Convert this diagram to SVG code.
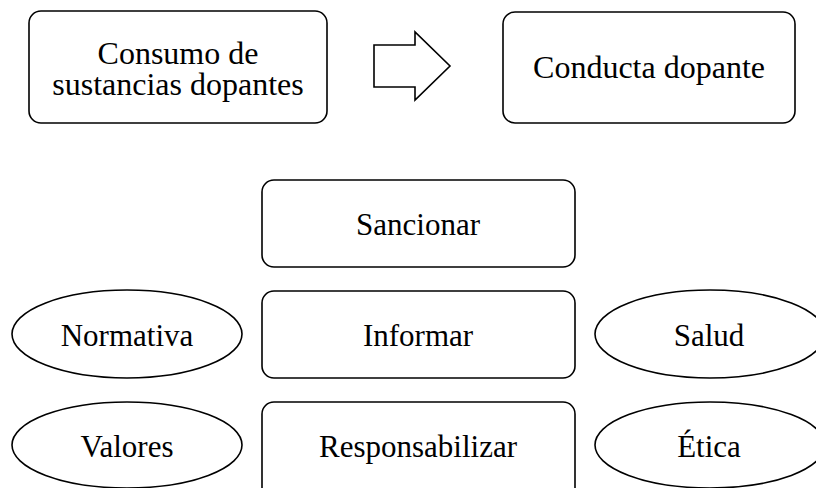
<svg xmlns="http://www.w3.org/2000/svg" width="816" height="488" viewBox="0 0 816 488">
<style>
.box{fill:#fff;stroke:#000;stroke-width:1.6}
.t{font-family:"Liberation Serif","Times New Roman",serif;font-size:31px;fill:#000;text-anchor:middle}
.big{font-size:32px}
</style>
<rect width="816" height="488" fill="#fff"/>
<g id="consumo">
<rect class="box" x="29" y="11" width="298" height="112" rx="12"/>
<text class="t big" x="178" y="64">Consumo de</text>
<text class="t big" x="178" y="95">sustancias dopantes</text>
</g>
<g id="connectors">
<polygon class="box" points="374,45 415,45 415,32 450,66 415,100 415,87 374,87"/>
</g>
<g id="conducta">
<rect class="box" x="503" y="12" width="292" height="111" rx="12"/>
<text class="t big" x="649" y="78">Conducta dopante</text>
</g>
<g id="sancionar">
<rect class="box" x="262" y="180" width="313" height="87" rx="12"/>
<text class="t" x="418" y="235">Sancionar</text>
</g>
<g id="informar">
<rect class="box" x="262" y="291" width="313" height="87" rx="12"/>
<text class="t" x="418" y="346">Informar</text>
</g>
<g id="responsabilizar">
<rect class="box" x="262" y="402" width="313" height="100" rx="12"/>
<text class="t" x="418" y="457">Responsabilizar</text>
</g>
<g id="normativa">
<ellipse class="box" cx="127" cy="334" rx="115" ry="44"/>
<text class="t" x="127" y="346">Normativa</text>
</g>
<g id="salud">
<ellipse class="box" cx="710" cy="334" rx="115" ry="44"/>
<text class="t" x="709" y="346">Salud</text>
</g>
<g id="valores">
<ellipse class="box" cx="127" cy="445" rx="115" ry="43"/>
<text class="t" x="127" y="457">Valores</text>
</g>
<g id="etica">
<ellipse class="box" cx="710" cy="445" rx="115" ry="43"/>
<text class="t" x="709" y="457">Ética</text>
</g>
</svg>
